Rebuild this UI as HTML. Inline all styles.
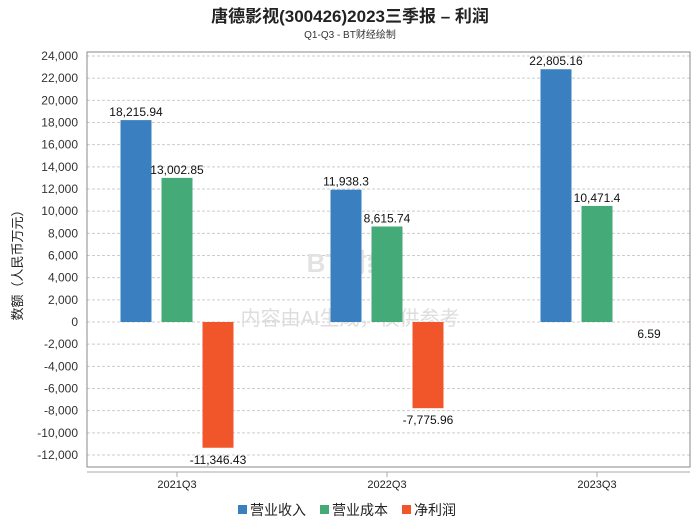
<!DOCTYPE html>
<html><head><meta charset="utf-8"><style>
body{margin:0;background:#fff;}
svg text{font-family:"Liberation Sans","Noto Sans CJK SC",sans-serif;}
</style></head><body>
<svg width="700" height="524" xmlns="http://www.w3.org/2000/svg" id="chart">
<text x="350" y="22" text-anchor="middle" font-size="17" font-weight="bold" fill="#222">唐德影视(300426)2023三季报 – 利润</text>
<text x="350" y="38" text-anchor="middle" font-size="10" fill="#333">Q1-Q3 - BT财经绘制</text>
<g id="grid"></g>
<rect x="87" y="52" width="603" height="415" fill="none" stroke="#888" stroke-width="1"/>
<text transform="translate(22,262) rotate(-90)" text-anchor="middle" font-size="13" fill="#222">数额（人民币万元）</text>
<text x="350" y="325" text-anchor="middle" font-size="20" fill="#ddd">内容由AI生成，仅供参考</text>
<text x="350" y="272" text-anchor="middle" font-size="26" fill="#e2e2e2" font-weight="bold">BT财经</text>
<g id="bars"></g>
<line x1="87" y1="472" x2="690" y2="472" stroke="#aaa"/>
<g id="xaxis"></g>
<g id="legend"></g>
</svg>
<script>
const categories=["2021Q3","2022Q3","2023Q3"];
const revenue=[18215.94,11938.3,22805.16];
const cost=[13002.85,8615.74,10471.4];
const profit=[-11346.43,-7775.96,6.59];
const revenueLabels=["18,215.94","11,938.3","22,805.16"];
const costLabels=["13,002.85","8,615.74","10,471.4"];
const profitLabels=["-11,346.43","-7,775.96","6.59"];
const yTicks=[24000,22000,20000,18000,16000,14000,12000,10000,8000,6000,4000,2000,0,-2000,-4000,-6000,-8000,-10000,-12000];
const seriesNames=["营业收入","营业成本","净利润"];
const colors=["#3a80c0","#44aa77","#f0562a"];
const NS="http://www.w3.org/2000/svg";
function y(v){return 322-v*(456-57)/36000;}
function x(i){return 177+i*210;}
function mk(tag,attrs,parent){const e=document.createElementNS(NS,tag);for(const k in attrs)e.setAttribute(k,attrs[k]);parent.appendChild(e);return e;}
const grid=document.getElementById('grid');
yTicks.forEach(t=>{
  const l=mk('line',{x1:87,x2:690,y1:y(t),y2:y(t),stroke:'#ccc','stroke-dasharray':'3,2'},grid);
  
  
  const tx=mk('text',{x:78,y:y(t)+4,'text-anchor':'end','font-size':12,fill:'#333'},grid);
  tx.textContent=t.toLocaleString('en-US');
  
  
});
const bars=document.getElementById('bars');
const series=[revenue,cost,profit];
const labels=[revenueLabels,costLabels,profitLabels];
const offs=[-41,0,41];
categories.forEach((c,i)=>{
  series.forEach((s,j)=>{
    const v=s[i];const cx=x(i)+offs[j];
    const y0=y(0),y1=y(v);
    const r=mk('rect',{x:cx-15.5,y:Math.min(y0,y1),width:31,height:Math.abs(y1-y0),fill:colors[j]},bars);
    
    
    let lx=cx,ly=v>=0?y1-4:y1+16;
    if(v>=0&&v<100){lx=cx+11;ly=y0+16;}
    const t=mk('text',{x:lx,y:ly,'text-anchor':'middle','font-size':12,fill:'#111'},bars);
    t.textContent=labels[j][i];
    
    
  });
});
const xa=document.getElementById('xaxis');
categories.forEach((c,i)=>{
  mk('line',{x1:x(i),x2:x(i),y1:472,y2:477,stroke:'#aaa'},xa);
  const t=mk('text',{x:x(i),y:488,'text-anchor':'middle','font-size':11,fill:'#222'},xa);
  t.textContent=c;
  
  
});
const lg=document.getElementById('legend');
const lx=[238,320,402];
seriesNames.forEach((n,j)=>{
  const g=mk('g',{},lg);
  
  
  mk('rect',{x:lx[j],y:505,width:9,height:9,fill:colors[j]},g);
  const t=mk('text',{x:lx[j]+12,y:515,'font-size':14,fill:'#222'},g);
  t.textContent=n;
});
</script>
</body></html>
